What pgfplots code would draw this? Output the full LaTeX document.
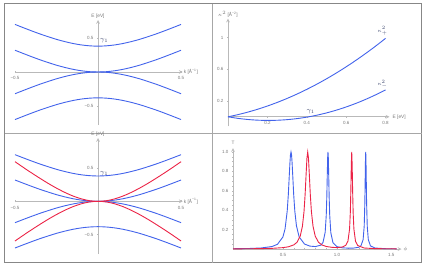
\documentclass[border=0pt]{standalone}
\usepackage{pgfplots}
\pgfplotsset{compat=1.18}
\usepackage{fontspec}
\setmainfont{Liberation Sans}
\definecolor{cblue}{RGB}{66,99,235}
\definecolor{cred}{RGB}{235,35,70}
\definecolor{axgray}{RGB}{185,185,185}
\definecolor{labgray}{RGB}{120,120,120}
\definecolor{framegray}{RGB}{135,135,135}
\definecolor{gcol}{RGB}{60,70,110}
\pgfplotsset{
 base/.style={scale only axis, clip=false,
  axis line style={draw=axgray,line width=0.7pt,-},
  every tick/.style={draw=axgray,line width=0.4pt},
  major tick length=2pt, minor tick length=1.2pt,
  tick label style={font=\fontsize{4.5}{5}\selectfont, text=labgray},
  /pgf/number format/assume math mode=true,
  every axis plot/.append style={line width=0.9pt},
 },
}
\tikzset{
 lab/.style={font=\fontsize{4.8}{5}\selectfont, text=labgray, inner sep=1pt},
 glab/.style={font=\fontsize{7}{8}\selectfont, text=gcol, inner sep=0.5pt},
}
\begin{document}
\begin{tikzpicture}
\useasboundingbox (0pt,0pt) rectangle (426pt,266pt);
\draw[framegray,line width=0.7pt] (4.5pt,3.5pt) rectangle (421.5pt,262.5pt);
\draw[axgray!90!black,line width=0.7pt] (212.7pt,3.5pt)--(212.7pt,262.5pt) (4.5pt,133pt)--(421.5pt,133pt);

% Panel 1: top-left
\begin{axis}[base, axis lines=middle, at={(15pt,141pt)}, anchor=south west,
  width=167.7pt, height=105pt, xmin=-0.5, xmax=0.51, ymin=-0.78, ymax=0.765,
  xtick={-0.5,0.5}, xticklabels={−0.5,0.5}, ytick={-0.5,0.5}, yticklabels={−0.5,0.5}]
\addplot[cblue, smooth] coordinates {(-0.5,0.700)(-0.45,0.652)(-0.4,0.605)(-0.35,0.560)(-0.3,0.519)(-0.25,0.480)(-0.2,0.447)(-0.15,0.419)(-0.1,0.398)(-0.05,0.385)(0,0.380)(0.05,0.385)(0.1,0.398)(0.15,0.419)(0.2,0.447)(0.25,0.480)(0.3,0.519)(0.35,0.560)(0.4,0.605)(0.45,0.652)(0.5,0.700)};
\addplot[cblue, smooth] coordinates {(-0.5,0.320)(-0.45,0.272)(-0.4,0.225)(-0.35,0.180)(-0.3,0.139)(-0.25,0.100)(-0.2,0.067)(-0.15,0.039)(-0.1,0.018)(-0.05,0.0045)(0,0)(0.05,0.0045)(0.1,0.018)(0.15,0.039)(0.2,0.067)(0.25,0.100)(0.3,0.139)(0.35,0.180)(0.4,0.225)(0.45,0.272)(0.5,0.320)};
\addplot[cblue, smooth] coordinates {(-0.5,-0.320)(-0.45,-0.272)(-0.4,-0.225)(-0.35,-0.180)(-0.3,-0.139)(-0.25,-0.100)(-0.2,-0.067)(-0.15,-0.039)(-0.1,-0.018)(-0.05,-0.0045)(0,0)(0.05,-0.0045)(0.1,-0.018)(0.15,-0.039)(0.2,-0.067)(0.25,-0.100)(0.3,-0.139)(0.35,-0.180)(0.4,-0.225)(0.45,-0.272)(0.5,-0.320)};
\addplot[cblue, smooth] coordinates {(-0.5,-0.700)(-0.45,-0.652)(-0.4,-0.605)(-0.35,-0.560)(-0.3,-0.519)(-0.25,-0.480)(-0.2,-0.447)(-0.15,-0.419)(-0.1,-0.398)(-0.05,-0.385)(0,-0.380)(0.05,-0.385)(0.1,-0.398)(0.15,-0.419)(0.2,-0.447)(0.25,-0.480)(0.3,-0.519)(0.35,-0.560)(0.4,-0.605)(0.45,-0.652)(0.5,-0.700)};
\node[lab, anchor=south] at (axis cs:0,0.765) {E [eV]};
\node[lab, anchor=west] at (axis cs:0.51,0) {k [Å\textsuperscript{−1}]};
\node[glab, anchor=west] at (axis cs:0.008,0.455) {$\gamma_1$};
\end{axis}

% Panel 2: top-right
\begin{axis}[base, axis lines=middle, at={(228pt,139.7pt)}, anchor=south west,
  width=161.5pt, height=107.7pt, xmin=0, xmax=0.82, ymin=-0.12, ymax=1.24,
  xtick={0.2,0.4,0.6,0.8}, xticklabels={0.2,0.4,0.6,0.8},
  ytick={0.2,0.6,1}, yticklabels={0.2,0.6,1}]
\addplot[cblue, smooth] coordinates {(0,0)(0.05,0.027)(0.1,0.0587)(0.15,0.095)(0.2,0.136)(0.25,0.1816)(0.3,0.2319)(0.35,0.2868)(0.4,0.3464)(0.45,0.4106)(0.5,0.4795)(0.55,0.553)(0.6,0.6312)(0.65,0.714)(0.7,0.8015)(0.75,0.8936)(0.8,0.9904)};
\addplot[cblue, smooth] coordinates {(0,0)(0.05,-0.0196)(0.1,-0.0338)(0.15,-0.0425)(0.2,-0.0458)(0.25,-0.0436)(0.3,-0.036)(0.35,-0.0229)(0.4,-0.0044)(0.45,0.0196)(0.5,0.049)(0.55,0.0839)(0.6,0.1242)(0.65,0.17)(0.7,0.2212)(0.75,0.2779)(0.8,0.34)};
\node[lab, anchor=south] at (axis cs:0,1.24) {$\kappa^2$ [Å\textsuperscript{−2}]};
\node[lab, anchor=west] at (axis cs:0.83,0) {E [eV]};
\node[glab, font=\fontsize{5}{6}\selectfont] at (axis cs:0.785,1.08) {$\kappa_+^2$};
\node[glab, font=\fontsize{5}{6}\selectfont] at (axis cs:0.785,0.41) {$\kappa_-^2$};
\node[glab] at (axis cs:0.42,0.07) {$\gamma_1$};
\end{axis}

% Panel 3: bottom-left
\begin{axis}[base, axis lines=middle, at={(15pt,12pt)}, anchor=south west,
  width=167.7pt, height=116pt, xmin=-0.5, xmax=0.51, ymin=-0.79, ymax=0.95,
  xtick={-0.5,0.5}, xticklabels={−0.5,0.5}, ytick={-0.5,0.5}, yticklabels={−0.5,0.5}]
\addplot[cblue, smooth] coordinates {(-0.5,0.700)(-0.45,0.652)(-0.4,0.605)(-0.35,0.560)(-0.3,0.519)(-0.25,0.480)(-0.2,0.447)(-0.15,0.419)(-0.1,0.398)(-0.05,0.385)(0,0.380)(0.05,0.385)(0.1,0.398)(0.15,0.419)(0.2,0.447)(0.25,0.480)(0.3,0.519)(0.35,0.560)(0.4,0.605)(0.45,0.652)(0.5,0.700)};
\addplot[cblue, smooth] coordinates {(-0.5,0.320)(-0.45,0.272)(-0.4,0.225)(-0.35,0.180)(-0.3,0.139)(-0.25,0.100)(-0.2,0.067)(-0.15,0.039)(-0.1,0.018)(-0.05,0.0045)(0,0)(0.05,0.0045)(0.1,0.018)(0.15,0.039)(0.2,0.067)(0.25,0.100)(0.3,0.139)(0.35,0.180)(0.4,0.225)(0.45,0.272)(0.5,0.320)};
\addplot[cblue, smooth] coordinates {(-0.5,-0.320)(-0.45,-0.272)(-0.4,-0.225)(-0.35,-0.180)(-0.3,-0.139)(-0.25,-0.100)(-0.2,-0.067)(-0.15,-0.039)(-0.1,-0.018)(-0.05,-0.0045)(0,0)(0.05,-0.0045)(0.1,-0.018)(0.15,-0.039)(0.2,-0.067)(0.25,-0.100)(0.3,-0.139)(0.35,-0.180)(0.4,-0.225)(0.45,-0.272)(0.5,-0.320)};
\addplot[cblue, smooth] coordinates {(-0.5,-0.700)(-0.45,-0.652)(-0.4,-0.605)(-0.35,-0.560)(-0.3,-0.519)(-0.25,-0.480)(-0.2,-0.447)(-0.15,-0.419)(-0.1,-0.398)(-0.05,-0.385)(0,-0.380)(0.05,-0.385)(0.1,-0.398)(0.15,-0.419)(0.2,-0.447)(0.25,-0.480)(0.3,-0.519)(0.35,-0.560)(0.4,-0.605)(0.45,-0.652)(0.5,-0.700)};
\addplot[cred, smooth] coordinates {(-0.5,0.595)(-0.45,0.509)(-0.4,0.426)(-0.35,0.346)(-0.3,0.269)(-0.25,0.198)(-0.2,0.134)(-0.15,0.079)(-0.1,0.037)(-0.05,0.009)(0,0)(0.05,0.009)(0.1,0.037)(0.15,0.079)(0.2,0.134)(0.25,0.198)(0.3,0.269)(0.35,0.346)(0.4,0.426)(0.45,0.509)(0.5,0.595)};
\addplot[cred, smooth] coordinates {(-0.5,-0.595)(-0.45,-0.509)(-0.4,-0.426)(-0.35,-0.346)(-0.3,-0.269)(-0.25,-0.198)(-0.2,-0.134)(-0.15,-0.079)(-0.1,-0.037)(-0.05,-0.009)(0,0)(0.05,-0.009)(0.1,-0.037)(0.15,-0.079)(0.2,-0.134)(0.25,-0.198)(0.3,-0.269)(0.35,-0.346)(0.4,-0.426)(0.45,-0.509)(0.5,-0.595)};
\node[lab, anchor=south] at (axis cs:0,0.95) {E [eV]};
\node[lab, anchor=west] at (axis cs:0.51,0) {k [Å\textsuperscript{−1}]};
\node[glab, anchor=west] at (axis cs:0.008,0.42) {$\gamma_1$};
\end{axis}

% Panel 4: bottom-right
\begin{axis}[base, axis lines=left, at={(233pt,17pt)}, anchor=south west,
  width=168.5pt, height=100.9pt, xmin=0.04, xmax=1.594, ymin=0, ymax=1.04,
  xtick={0.5,1.0,1.5}, xticklabels={0.5,1.0,1.5},
  minor xtick={0.1,0.2,0.3,0.4,0.6,0.7,0.8,0.9,1.1,1.2,1.3,1.4},
  ytick={0.2,0.4,0.6,0.8,1.0}, yticklabels={0.2,0.4,0.6,0.8,1.0},
  minor ytick={0.05,0.1,0.15,0.25,0.3,0.35,0.45,0.5,0.55,0.65,0.7,0.75,0.85,0.9,0.95}]
\addplot[cblue] coordinates {(0.04,0.0029)(0.1,0.0037)(0.2,0.0058)(0.3,0.0106)(0.4,0.0255)(0.45,0.0484)(0.5,0.123)(0.52,0.2065)(0.54,0.391)(0.55,0.557)(0.56,0.778)(0.565,0.888)(0.57,0.970)(0.575,1.0)(0.58,0.970)(0.585,0.888)(0.59,0.778)(0.6,0.557)(0.61,0.391)(0.625,0.240)(0.65,0.124)(0.7,0.0506)(0.75,0.0297)(0.8,0.025)(0.85,0.0397)(0.87,0.0677)(0.89,0.1714)(0.9,0.348)(0.905,0.529)(0.91,0.793)(0.913,0.943)(0.916,1.0)(0.919,0.943)(0.922,0.793)(0.927,0.529)(0.932,0.348)(0.942,0.169)(0.962,0.064)(1.0,0.0236)(1.05,0.0121)(1.1,0.0089)(1.15,0.0093)(1.2,0.0179)(1.22,0.033)(1.24,0.096)(1.25,0.235)(1.256,0.484)(1.26,0.790)(1.262,0.94)(1.264,1.0)(1.266,0.94)(1.268,0.790)(1.272,0.484)(1.278,0.235)(1.288,0.096)(1.308,0.032)(1.35,0.010)(1.45,0.003)(1.55,0.002)};
\addplot[cred] coordinates {(0.04,0.0016)(0.1,0.0019)(0.2,0.0027)(0.3,0.0040)(0.4,0.0068)(0.5,0.014)(0.55,0.0225)(0.6,0.042)(0.63,0.069)(0.66,0.133)(0.68,0.233)(0.695,0.387)(0.705,0.559)(0.715,0.788)(0.722,0.937)(0.729,1.0)(0.736,0.937)(0.743,0.788)(0.753,0.559)(0.763,0.388)(0.778,0.234)(0.798,0.134)(0.828,0.070)(0.858,0.043)(0.9,0.026)(0.95,0.0176)(1.0,0.0142)(1.05,0.0207)(1.08,0.038)(1.1,0.081)(1.115,0.205)(1.122,0.377)(1.127,0.615)(1.131,0.867)(1.135,1.0)(1.139,0.867)(1.143,0.615)(1.148,0.377)(1.155,0.205)(1.17,0.079)(1.19,0.036)(1.25,0.010)(1.35,0.004)(1.45,0.0025)(1.55,0.002)};
\node[lab, anchor=south] at (axis cs:0.04,1.06) {T};
\node[lab, anchor=west] at (axis cs:1.6,0) {$\phi$};
\end{axis}
\end{tikzpicture}
\end{document}
